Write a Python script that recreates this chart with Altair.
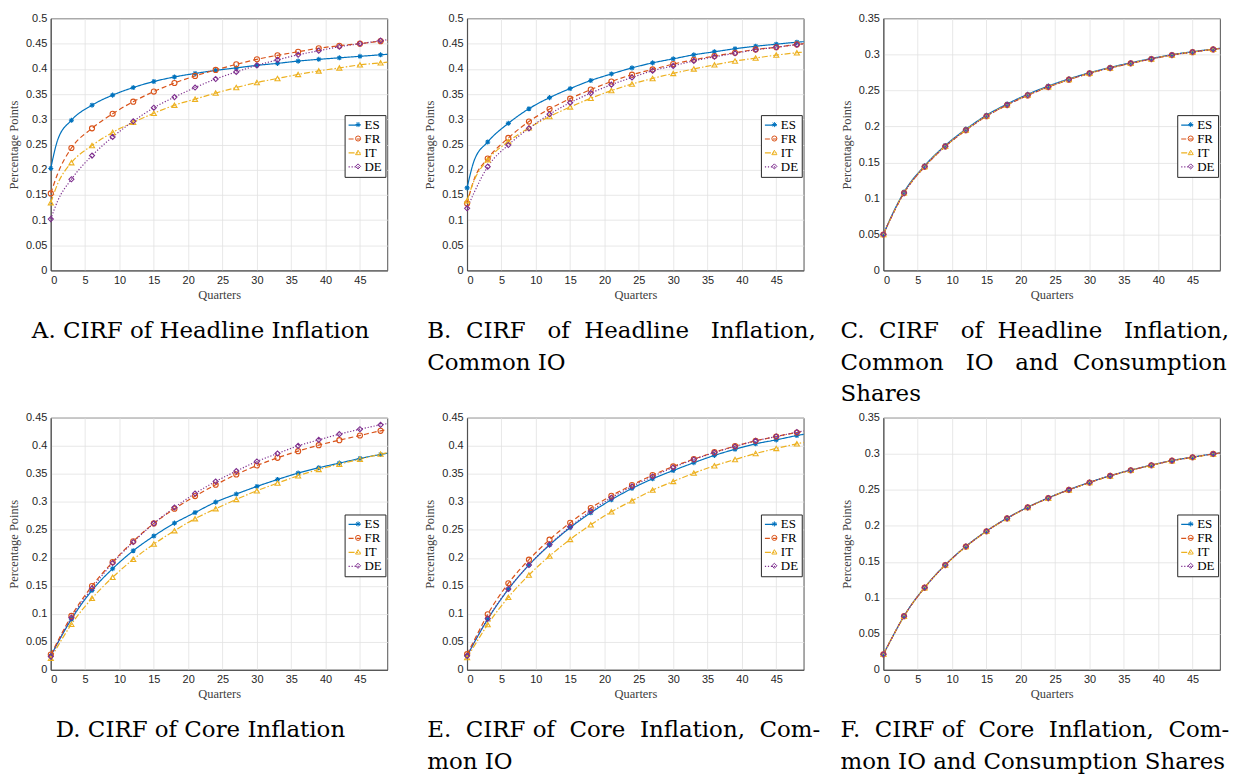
import altair as alt
import pandas as pd

# Quarters at which each cumulative impulse response is recorded
QUARTERS = [0, 1, 3, 6, 9, 12, 15, 18, 21, 24, 27, 30, 33, 36, 39, 42, 45, 48, 49]
SERIES = ["ES", "FR", "IT", "DE"]

# A. Headline inflation
HEADLINE = {
    "ES": [0.2025, 0.259, 0.298, 0.328, 0.348, 0.363, 0.375, 0.384, 0.391, 0.397, 0.402, 0.407, 0.411, 0.4155, 0.419, 0.422, 0.425, 0.428, 0.429],
    "FR": [0.153, 0.192, 0.243, 0.282, 0.311, 0.335, 0.355, 0.372, 0.386, 0.398, 0.409, 0.419, 0.427, 0.434, 0.441, 0.446, 0.450, 0.455, 0.4565],
    "IT": [0.1346, 0.172, 0.214, 0.248, 0.274, 0.294, 0.312, 0.328, 0.340, 0.352, 0.363, 0.373, 0.381, 0.389, 0.396, 0.402, 0.408, 0.412, 0.4135],
    "DE": [0.102, 0.138, 0.181, 0.228, 0.265, 0.296, 0.323, 0.344, 0.363, 0.380, 0.394, 0.407, 0.418, 0.428, 0.436, 0.444, 0.450, 0.456, 0.458],
}
# B. Headline inflation, common IO
HEADLINE_IO = {
    "ES": [0.164, 0.217, 0.255, 0.292, 0.321, 0.343, 0.361, 0.377, 0.390, 0.402, 0.412, 0.420, 0.428, 0.434, 0.440, 0.445, 0.449, 0.453, 0.454],
    "FR": [0.133, 0.180, 0.222, 0.263, 0.2955, 0.3205, 0.341, 0.359, 0.375, 0.3885, 0.399, 0.4096, 0.418, 0.4255, 0.432, 0.4387, 0.443, 0.4485, 0.450],
    "IT": [0.1385, 0.178, 0.2197, 0.256, 0.283, 0.3054, 0.3245, 0.3417, 0.357, 0.370, 0.381, 0.391, 0.400, 0.408, 0.4156, 0.4215, 0.4274, 0.432, 0.4335],
    "DE": [0.1234, 0.154, 0.206, 0.249, 0.282, 0.310, 0.333, 0.352, 0.3687, 0.383, 0.3964, 0.406, 0.416, 0.424, 0.431, 0.438, 0.443, 0.448, 0.4495],
}
# C. Headline inflation, common IO and consumption shares
HEADLINE_IO_SHARES = {
    "ES": [0.050, 0.072, 0.109, 0.1456, 0.1737, 0.1963, 0.2157, 0.2313, 0.2447, 0.2562, 0.2661, 0.2748, 0.2821, 0.2885, 0.2944, 0.2998, 0.3039, 0.3075, 0.3086],
    "FR": [0.050, 0.071, 0.1075, 0.1441, 0.1722, 0.1948, 0.2142, 0.2298, 0.2432, 0.2548, 0.2650, 0.2737, 0.2812, 0.2877, 0.2937, 0.2992, 0.3033, 0.3071, 0.3082],
    "IT": [0.050, 0.071, 0.108, 0.1446, 0.1727, 0.1953, 0.2147, 0.2303, 0.2437, 0.2552, 0.2653, 0.2740, 0.2814, 0.2879, 0.2939, 0.2994, 0.3035, 0.3072, 0.3083],
    "DE": [0.050, 0.071, 0.1075, 0.1443, 0.1724, 0.1950, 0.2145, 0.2301, 0.2435, 0.2551, 0.2652, 0.2739, 0.2813, 0.2878, 0.2938, 0.2993, 0.3034, 0.3072, 0.3083],
}
# D. Core inflation
CORE = {
    "ES": [0.025, 0.048, 0.0904, 0.142, 0.1807, 0.2128, 0.239, 0.262, 0.281, 0.2996, 0.314, 0.3276, 0.340, 0.3514, 0.361, 0.3692, 0.3775, 0.3847, 0.3868],
    "FR": [0.0273, 0.051, 0.0963, 0.1498, 0.1926, 0.2295, 0.2616, 0.2878, 0.3103, 0.3306, 0.349, 0.365, 0.3787, 0.3906, 0.4013, 0.4102, 0.4186, 0.4269, 0.4293],
    "IT": [0.0208, 0.042, 0.0815, 0.1278, 0.1653, 0.1974, 0.2247, 0.2485, 0.270, 0.2878, 0.3044, 0.3199, 0.3335, 0.3466, 0.358, 0.3674, 0.3763, 0.3853, 0.3878],
    "DE": [0.0238, 0.048, 0.0933, 0.1457, 0.1908, 0.2283, 0.2616, 0.290, 0.315, 0.3365, 0.355, 0.3722, 0.3864, 0.4001, 0.4108, 0.4209, 0.4298, 0.4376, 0.4398],
}
# E. Core inflation, common IO
CORE_IO = {
    "ES": [0.025, 0.048, 0.0904, 0.1439, 0.1873, 0.223, 0.254, 0.2806, 0.3038, 0.324, 0.3413, 0.356, 0.370, 0.383, 0.394, 0.4037, 0.4108, 0.4185, 0.4208],
    "FR": [0.028, 0.052, 0.0993, 0.1546, 0.1968, 0.2325, 0.2628, 0.289, 0.311, 0.330, 0.3478, 0.3633, 0.3763, 0.3888, 0.3995, 0.409, 0.4168, 0.4239, 0.426],
    "IT": [0.022, 0.042, 0.081, 0.1296, 0.1694, 0.2033, 0.233, 0.2592, 0.2824, 0.302, 0.321, 0.3365, 0.3514, 0.3645, 0.3757, 0.3864, 0.3954, 0.4037, 0.4062],
    "DE": [0.025, 0.048, 0.0916, 0.1445, 0.1873, 0.2241, 0.2556, 0.2836, 0.3074, 0.3276, 0.3454, 0.3615, 0.3757, 0.3882, 0.399, 0.409, 0.4168, 0.4245, 0.4268],
}
# F. Core inflation, common IO and consumption shares
CORE_IO_SHARES = {
    "ES": [0.0216, 0.040, 0.0748, 0.1145, 0.1459, 0.1716, 0.1928, 0.2108, 0.2260, 0.2389, 0.2504, 0.2605, 0.2697, 0.2775, 0.2844, 0.2908, 0.2955, 0.3001, 0.3014],
    "FR": [0.0216, 0.040, 0.0746, 0.1142, 0.1456, 0.1713, 0.1925, 0.2105, 0.2257, 0.2386, 0.2501, 0.2602, 0.2695, 0.2773, 0.2842, 0.2906, 0.2953, 0.2999, 0.3012],
    "IT": [0.0216, 0.040, 0.0745, 0.1141, 0.1455, 0.1712, 0.1924, 0.2104, 0.2256, 0.2385, 0.2500, 0.2601, 0.2694, 0.2772, 0.2841, 0.2905, 0.2952, 0.2998, 0.3011],
    "DE": [0.0216, 0.040, 0.0746, 0.1142, 0.1456, 0.1713, 0.1925, 0.2105, 0.2257, 0.2386, 0.2501, 0.2602, 0.2695, 0.2773, 0.2842, 0.2906, 0.2953, 0.2999, 0.3012],
}

X_TICKS = [0, 5, 10, 15, 20, 25, 30, 35, 40, 45]
Y_TICKS_050 = [0, 0.05, 0.1, 0.15, 0.2, 0.25, 0.3, 0.35, 0.4, 0.45, 0.5]
Y_TICKS_045 = [0, 0.05, 0.1, 0.15, 0.2, 0.25, 0.3, 0.35, 0.4, 0.45]
Y_TICKS_035 = [0, 0.05, 0.1, 0.15, 0.2, 0.25, 0.3, 0.35]

CAPTIONS = {
    "A": ["A. CIRF of Headline Inflation"],
    "B": ["B. CIRF of Headline Inflation,", "Common IO"],
    "C": ["C. CIRF of Headline Inflation,", "Common IO and Consumption", "Shares"],
    "D": ["D. CIRF of Core Inflation"],
    "E": ["E. CIRF of Core Inflation, Com-", "mon IO"],
    "F": ["F. CIRF of Core Inflation, Com-", "mon IO and Consumption Shares"],
}

# MATLAB default line colours, line styles and markers
COLORS = ["#0072BD", "#D95319", "#EDB120", "#7E2F8E"]
DASHES = [[1, 0], [5, 3], [6, 2, 1.5, 2], [1.2, 1.8]]
ASTERISK = "M-1,0H1M0,-1V1M-0.7,-0.7L0.7,0.7M-0.7,0.7L0.7,-0.7"
SHAPES = [ASTERISK, "circle", "triangle-up", "diamond"]

NBSP = "\u00a0"
SERIF = "DejaVu Serif"
SMALL_SERIF = "Liberation Serif"
SANS = "Liberation Sans"

PLOT_W, PLOT_H = 338, 253
LEG_X, LEG_Y = 295, 97


def justify(line, pads):
    """Widen the word gaps of a justified caption line with extra no-break spaces."""
    if not pads:
        return line
    words = line.split(" ")
    out = words[0]
    for word, pad in zip(words[1:], pads):
        out += " " + NBSP * pad + word
    return out


def tidy(series):
    rows = []
    for name in SERIES:
        for q, v in zip(QUARTERS, series[name]):
            rows.append({"q": q, "v": v, "country": name})
    return pd.DataFrame(rows)


# per-entry marker colour for the marker legend
color_expr = "{" + ",".join(f"'{s}':'{c}'" for s, c in zip(SERIES, COLORS)) + "}[datum.value]"

line_legend = alt.Legend(
    orient="none", legendX=LEG_X, legendY=LEG_Y, title=None,
    symbolType="stroke", symbolSize=144, symbolStrokeWidth=1.2,
    labelFont=SMALL_SERIF, labelFontSize=13, labelColor="#000000", labelOffset=3,
    padding=3, rowPadding=0, strokeColor="#262626", fillColor="white",
)
marker_legend = alt.Legend(
    orient="none", legendX=LEG_X, legendY=LEG_Y, title=None,
    symbolSize=26, symbolStrokeWidth=1, symbolOffset=4,
    symbolStrokeColor=alt.ExprRef(color_expr),
    labelFont=SMALL_SERIF, labelFontSize=13, labelExpr="''", labelOffset=3,
    padding=3, rowPadding=0,
)


def panel(series, ymax, yticks, caption, pads, cap_dx):
    base = alt.Chart(tidy(series))
    x = alt.X(
        "q:Q",
        scale=alt.Scale(domain=[0, 49], nice=False),
        axis=alt.Axis(values=X_TICKS, format="d", title="Quarters", titlePadding=3),
    )
    y = alt.Y(
        "v:Q",
        scale=alt.Scale(domain=[0, ymax], nice=False),
        axis=alt.Axis(values=yticks, format=".2~f", title="Percentage Points", titlePadding=5),
    )
    lines = base.mark_line(strokeWidth=1.2, interpolate="monotone").encode(
        x=x,
        y=y,
        color=alt.Color("country:N", scale=alt.Scale(domain=SERIES, range=COLORS), legend=line_legend),
        strokeDash=alt.StrokeDash("country:N", scale=alt.Scale(domain=SERIES, range=DASHES), legend=line_legend),
        order="q:Q",
    )
    points = base.transform_filter("datum.q % 3 == 0").mark_point(
        filled=False, size=26, strokeWidth=1.1, opacity=1
    ).encode(
        x=x,
        y=y,
        color=alt.Color("country:N", scale=alt.Scale(domain=SERIES, range=COLORS), legend=None),
        shape=alt.Shape("country:N", sort=SERIES, scale=alt.Scale(range=SHAPES), legend=marker_legend),
    )
    text = [justify(line, p) for line, p in zip(caption, pads)]
    return alt.layer(lines, points).properties(
        width=PLOT_W,
        height=PLOT_H,
        title=alt.TitleParams(
            text=text, orient="bottom", anchor="start", frame="group", dx=cap_dx, offset=19,
            font=SERIF, fontSize=23, fontWeight="normal", color="#000000", lineHeight=32,
        ),
    )


panels = [
    panel(HEADLINE, 0.5, Y_TICKS_050, CAPTIONS["A"], [[]], -19),
    panel(HEADLINE_IO, 0.5, Y_TICKS_050, CAPTIONS["B"], [[1, 2, 1, 2], []], -40),
    panel(HEADLINE_IO_SHARES, 0.35, Y_TICKS_035, CAPTIONS["C"], [[1, 2, 1, 2], [2, 2, 1], []], -43),
    panel(CORE, 0.45, Y_TICKS_045, CAPTIONS["D"], [[]], 5),
    panel(CORE_IO, 0.45, Y_TICKS_045, CAPTIONS["E"], [[1, 0, 1, 1, 1], []], -40),
    panel(CORE_IO_SHARES, 0.35, Y_TICKS_035, CAPTIONS["F"], [[1, 0, 1, 1, 1], []], -43),
]

chart = (
    alt.concat(*panels, columns=3, spacing={"row": 148, "column": 80}, bounds="flush")
    .resolve_scale(color="independent", strokeDash="independent", shape="independent")
    .resolve_legend(color="independent", strokeDash="independent", shape="independent")
    .properties(padding={"left": 7, "top": 10, "right": 5, "bottom": 5}, background="white")
    .configure_view(stroke="#262626", strokeWidth=0.8)
    .configure_axis(
        labelFont=SANS, labelFontSize=11, labelColor="#262626", labelPadding=4,
        titleFont=SMALL_SERIF, titleFontSize=12.5, titleFontWeight="normal", titleColor="#404040",
        domainColor="#262626", domainWidth=0.8, ticks=False,
        grid=True, gridColor="#e2e2e2", gridWidth=0.8,
    )
)

chart.save("out.html", embed_options={"renderer": "svg", "actions": False})
